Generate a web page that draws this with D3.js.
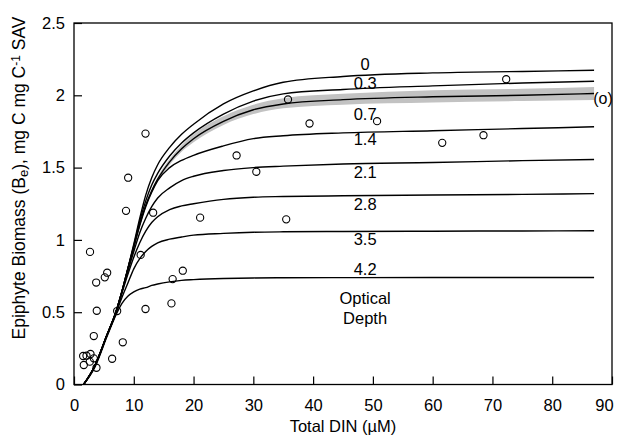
<!DOCTYPE html>
<html>
<head>
<meta charset="utf-8">
<script src="https://cdn.jsdelivr.net/npm/d3@7"></script>
<style>
  body { margin: 0; background: #fff; }
  svg { display: block; font-family: "Liberation Sans", Arial, sans-serif; }
</style>
</head>
<body>
<script>
// DIN grid shared by all model curves (uM)
const din = [1.6, 3.5, 5.5, 7, 8, 9, 10, 11, 12, 13, 14, 16, 18, 20, 25, 30, 35, 45, 60, 75, 87];

// modelled epiphyte biomass for each optical depth
const depths = ["0", "0.3", "0.7", "1.4", "2.1", "2.8", "3.5", "4.2"];
const be0   = [0, 0.13, 0.34, 0.50, 0.64, 0.80, 0.97, 1.15, 1.31, 1.43, 1.52, 1.64, 1.73, 1.80, 1.94, 2.03, 2.09, 2.13, 2.155, 2.165, 2.173];
const be03  = [0, 0.13, 0.34, 0.50, 0.64, 0.80, 0.96, 1.13, 1.27, 1.38, 1.46, 1.58, 1.67, 1.74, 1.87, 1.96, 2.01, 2.04, 2.065, 2.085, 2.097];
const be07  = [0, 0.13, 0.34, 0.50, 0.64, 0.80, 0.95, 1.11, 1.24, 1.34, 1.42, 1.54, 1.63, 1.70, 1.82, 1.90, 1.94, 1.97, 1.99, 2.00, 2.012];
const be14  = [0, 0.13, 0.34, 0.50, 0.64, 0.80, 0.95, 1.10, 1.23, 1.33, 1.41, 1.50, 1.55, 1.585, 1.65, 1.70, 1.72, 1.74, 1.755, 1.77, 1.782];
const be21  = [0, 0.13, 0.34, 0.50, 0.64, 0.78, 0.92, 1.05, 1.15, 1.23, 1.29, 1.36, 1.41, 1.44, 1.48, 1.50, 1.51, 1.525, 1.535, 1.548, 1.556];
const be28  = [0, 0.13, 0.34, 0.50, 0.63, 0.76, 0.88, 0.98, 1.06, 1.12, 1.16, 1.21, 1.235, 1.25, 1.28, 1.295, 1.30, 1.305, 1.31, 1.315, 1.32];
const be35  = [0, 0.13, 0.34, 0.49, 0.60, 0.70, 0.80, 0.87, 0.92, 0.955, 0.98, 1.005, 1.02, 1.033, 1.045, 1.053, 1.056, 1.058, 1.06, 1.062, 1.063];
const be42  = [0, 0.12, 0.33, 0.48, 0.56, 0.61, 0.64, 0.66, 0.67, 0.685, 0.695, 0.71, 0.72, 0.725, 0.733, 0.737, 0.738, 0.739, 0.74, 0.74, 0.74];

// shaded uncertainty band round the 0.7 curve
const bandDin  = [12, 14, 16, 18, 20, 25, 30, 35, 45, 60, 75, 87];
const bandHigh = [1.25, 1.435, 1.56, 1.655, 1.73, 1.855, 1.935, 1.98, 2.01, 2.035, 2.045, 2.057];
const bandLow  = [1.23, 1.405, 1.52, 1.61, 1.675, 1.795, 1.87, 1.91, 1.935, 1.95, 1.96, 1.967];

// observations
const obsDin = [1.53, 2.09, 2.76, 3.31, 1.64, 2.64, 3.76, 3.31, 3.81, 3.71, 2.68, 5.15, 5.55, 6.38, 7.22, 8.16, 8.7, 9.06,
  11.96, 11.96, 11.15, 13.24, 16.3, 16.5, 18.2, 21.1, 27.2, 30.5, 35.5, 35.8, 39.4, 50.7, 61.6, 68.5, 72.3];
const obsBe = [0.197, 0.199, 0.211, 0.181, 0.135, 0.158, 0.116, 0.335, 0.51, 0.705, 0.917, 0.741, 0.773, 0.178, 0.508, 0.292, 1.201, 1.43,
  1.735, 0.522, 0.896, 1.188, 0.561, 0.729, 0.787, 1.154, 1.584, 1.471, 1.142, 1.971, 1.805, 1.821, 1.671, 1.724, 2.111];

const xTicks = [0, 10, 20, 30, 40, 50, 60, 70, 80, 90];
const yTicks = [0, 0.5, 1, 1.5, 2, 2.5];

const series = [be0, be03, be07, be14, be21, be28, be35, be42];

const width = 618, height = 445;
const margin = { top: 23, right: 6, bottom: 60.5, left: 74 };

const svg = d3.select("body").append("svg")
  .attr("width", width)
  .attr("height", height);

const x = d3.scaleLinear().domain([0, 90]).range([margin.left, width - margin.right]);
const y = d3.scaleLinear().domain([0, 2.5]).range([height - margin.bottom, margin.top]);

// grey band
svg.append("path")
  .datum(bandDin.map((d, i) => [d, bandLow[i], bandHigh[i]]))
  .attr("fill", "#c2c2c2")
  .attr("d", d3.area()
    .x(d => x(d[0]))
    .y0(d => y(d[1]))
    .y1(d => y(d[2]))
    .curve(d3.curveMonotoneX));

const line = d3.line()
  .x((d, i) => x(din[i]))
  .y(d => y(d))
  .curve(d3.curveMonotoneX);

svg.selectAll("path.model")
  .data(series)
  .enter()
  .append("path")
  .attr("class", "model")
  .attr("fill", "none")
  .attr("stroke", "#000")
  .attr("stroke-width", 1.4)
  .attr("d", line);

// curve labels, pixel offsets from the curve at the label column
const labelDin = 48.7;
const labelDy = [-12, -6, 15, 6, 8, 8, 8, -8];
const li = din.indexOf(45);
svg.selectAll("text.depth")
  .data(depths)
  .enter()
  .append("text")
  .attr("class", "depth")
  .attr("x", x(labelDin))
  .attr("y", (d, i) => y(series[i][li]) + labelDy[i])
  .attr("dy", "0.35em")
  .attr("text-anchor", "middle")
  .attr("font-size", 16.5)
  .text(d => d);

svg.append("text")
  .attr("x", x(labelDin))
  .attr("y", 304)
  .attr("text-anchor", "middle")
  .attr("font-size", 16.5)
  .text("Optical");
svg.append("text")
  .attr("x", x(labelDin))
  .attr("y", 324)
  .attr("text-anchor", "middle")
  .attr("font-size", 16.5)
  .text("Depth");

svg.append("text")
  .attr("x", 603)
  .attr("y", 98)
  .attr("dy", "0.35em")
  .attr("text-anchor", "middle")
  .attr("font-size", 16)
  .text("(o)");

// observations
svg.selectAll("circle.obs")
  .data(obsDin)
  .enter()
  .append("circle")
  .attr("class", "obs")
  .attr("cx", d => x(d))
  .attr("cy", (d, i) => y(obsBe[i]))
  .attr("r", 3.6)
  .attr("fill", "none")
  .attr("stroke", "#000")
  .attr("stroke-width", 1.1);

// axes with inward ticks
const xAxis = d3.axisBottom(x).tickValues(xTicks).tickSize(-8).tickSizeOuter(0).tickPadding(15);
const yAxis = d3.axisLeft(y).tickValues(yTicks).tickSize(-8).tickSizeOuter(0).tickPadding(9)
  .tickFormat(d => String(d));

const gx = svg.append("g")
  .attr("transform", `translate(0,${height - margin.bottom})`)
  .call(xAxis);
const gy = svg.append("g")
  .attr("transform", `translate(${margin.left},0)`)
  .call(yAxis);

[gx, gy].forEach(g => {
  g.selectAll("text").attr("font-size", 16.5).attr("font-family", "Liberation Sans, Arial, sans-serif").attr("fill", "#000");
  g.selectAll("line").attr("stroke", "#000").attr("stroke-width", 1.2);
  g.select(".domain").remove();
});
// last x label sits inside the page edge
gx.selectAll(".tick text").filter(d => d === 90).attr("dx", -8);

// frame
svg.append("rect")
  .attr("x", x(0))
  .attr("y", y(2.5))
  .attr("width", x(90) - x(0))
  .attr("height", y(0) - y(2.5))
  .attr("fill", "none")
  .attr("stroke", "#000")
  .attr("stroke-width", 1.3);

// axis titles
svg.append("text")
  .attr("x", (x(0) + x(90)) / 2)
  .attr("y", 432)
  .attr("text-anchor", "middle")
  .attr("font-size", 16.5)
  .text("Total DIN (µM)");

const yt = svg.append("text")
  .attr("transform", `translate(25,178) rotate(-90)`)
  .attr("text-anchor", "middle")
  .attr("font-size", 17.5);
yt.append("tspan").text("Epiphyte Biomass (B");
yt.append("tspan").attr("baseline-shift", "-25%").attr("font-size", 13).text("e");
yt.append("tspan").text("), mg C mg C");
yt.append("tspan").attr("baseline-shift", "40%").attr("font-size", 12).text("-1");
yt.append("tspan").text(" SAV");
</script>
</body>
</html>
